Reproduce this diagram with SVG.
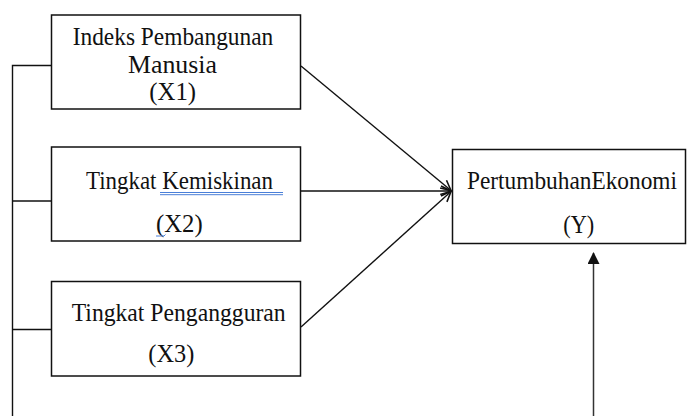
<svg xmlns="http://www.w3.org/2000/svg" width="689" height="416" viewBox="0 0 689 416">
  <style>
    .box { fill: #fff; stroke: #111; stroke-width: 1.5; }
    .lbl { font-family: "Liberation Serif", "Times New Roman", serif; font-size: 25px; fill: #111; }
    .wire { fill: none; stroke: #111; stroke-width: 1.4; }
    .spell { fill: none; stroke: #4a7fd8; stroke-width: 1; }
  </style>
  <defs>
    <marker id="open" viewBox="0 0 12 12" refX="11" refY="6" markerWidth="12" markerHeight="12" markerUnits="userSpaceOnUse" orient="auto">
      <path d="M1,1 L11,6 L1,11" fill="none" stroke="#111" stroke-width="1.6"/>
    </marker>
    <marker id="solid" viewBox="0 0 12 12" refX="6" refY="1" markerWidth="12" markerHeight="12" markerUnits="userSpaceOnUse" orient="0">
      <path d="M6,0 L12,12 L0,12 Z" fill="#111"/>
    </marker>
  </defs>

  <!-- connectors -->
  <g id="connectors">
    <!-- bracket linking the three independent variables -->
    <path class="wire" d="M12.5,416 L12.5,65.5 L51.5,65.5"/>
    <path class="wire" d="M12.5,201 L51.5,201"/>
    <path class="wire" d="M12.5,329.5 L51.5,329.5"/>
    <!-- paths into the dependent variable -->
    <line class="wire" x1="301" y1="66" x2="451" y2="190.5" marker-end="url(#open)"/>
    <line class="wire" x1="301" y1="191" x2="451" y2="191" marker-end="url(#open)"/>
    <line class="wire" x1="301" y1="327" x2="451" y2="191.5" marker-end="url(#open)"/>
    <!-- joint effect from below -->
    <line x1="593.5" y1="416" x2="593.5" y2="253" stroke="#333" stroke-width="1.5" marker-end="url(#solid)"/>
  </g>

  <g id="x1">
    <rect class="box" x="51.5" y="15" width="249" height="94"/>
    <text class="lbl" x="72.7" y="45" textLength="200.6" lengthAdjust="spacingAndGlyphs">Indeks Pembangunan</text>
    <text class="lbl" x="128" y="72.5" textLength="89" lengthAdjust="spacingAndGlyphs">Manusia</text>
    <text class="lbl" x="149.3" y="100" textLength="46.7" lengthAdjust="spacingAndGlyphs">(X1)</text>
  </g>

  <g id="x2">
    <rect class="box" x="51.5" y="147" width="249" height="94"/>
    <text class="lbl" x="86" y="189" textLength="187" lengthAdjust="spacingAndGlyphs">Tingkat Kemiskinan</text>
    <text class="lbl" x="156" y="232" textLength="46.7" lengthAdjust="spacingAndGlyphs">(X2)</text>
    <!-- proofing marks -->
    <path class="spell" d="M160,192.5 L283,192.5 M160,194.7 L283,194.7"/>
    <path class="spell" d="M156,236 L164,236 L165.5,234.5"/>
  </g>

  <g id="x3">
    <rect class="box" x="51.5" y="281.5" width="249" height="94.5"/>
    <text class="lbl" x="71.7" y="320.5" textLength="214" lengthAdjust="spacingAndGlyphs">Tingkat Pengangguran</text>
    <text class="lbl" x="148.3" y="362" textLength="46" lengthAdjust="spacingAndGlyphs">(X3)</text>
  </g>

  <g id="y">
    <rect class="box" x="452.5" y="149.5" width="233" height="94"/>
    <text class="lbl" x="572" y="189" font-size="23" text-anchor="middle" textLength="210" lengthAdjust="spacingAndGlyphs">PertumbuhanEkonomi</text>
    <text class="lbl" x="563.3" y="233" textLength="31" lengthAdjust="spacingAndGlyphs">(Y)</text>
  </g>
</svg>
